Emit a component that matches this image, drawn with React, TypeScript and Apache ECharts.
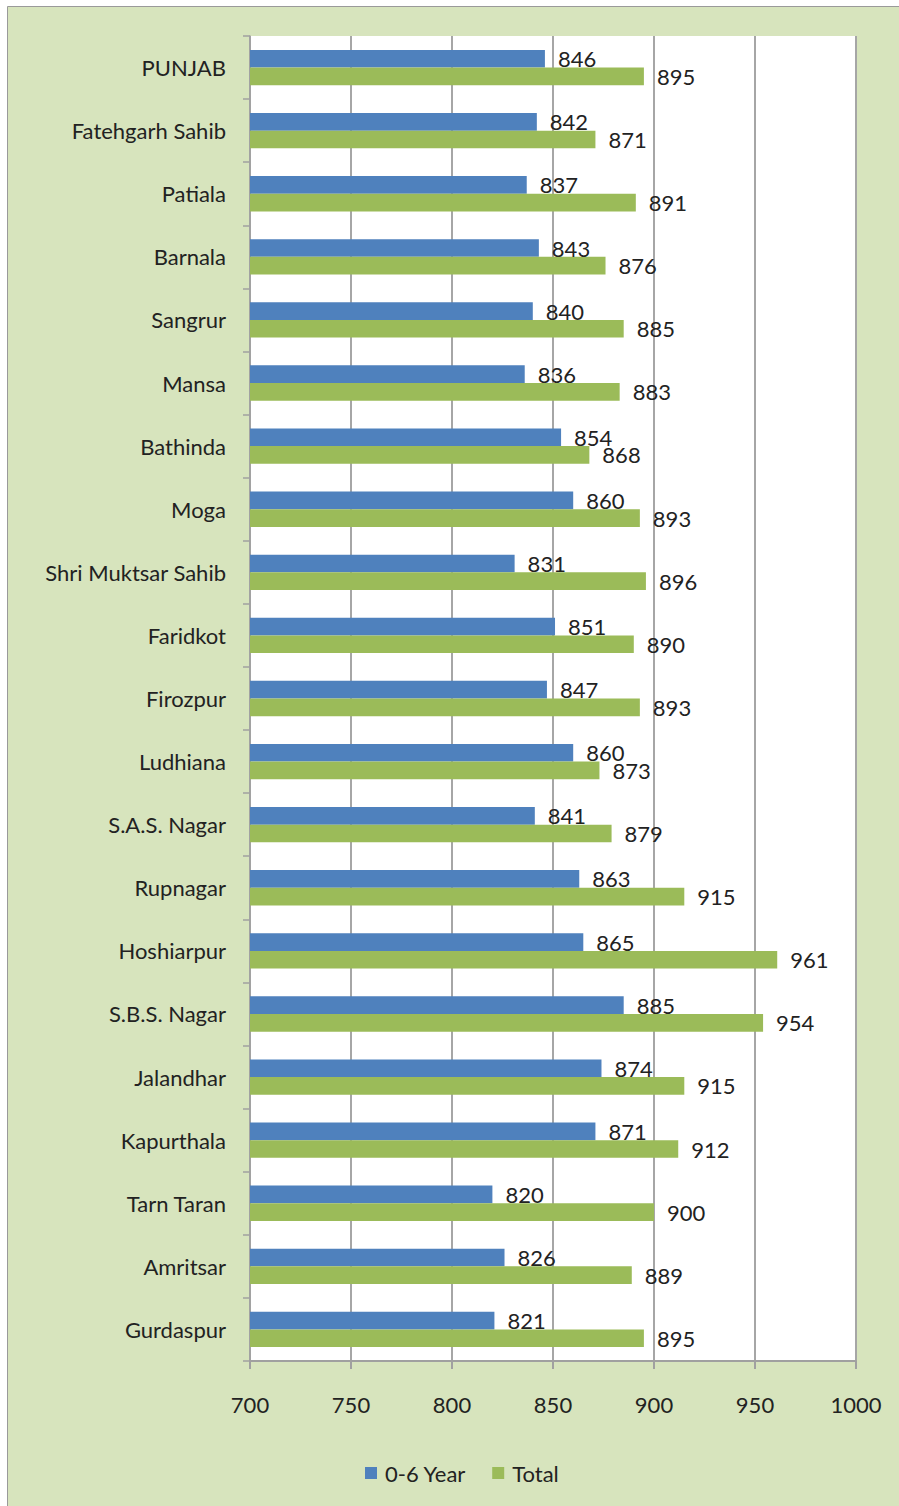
import React, { useEffect, useRef } from "react";
import * as echarts from "echarts";

const categories = [
  "PUNJAB", "Fatehgarh Sahib", "Patiala", "Barnala", "Sangrur", "Mansa", "Bathinda", "Moga",
  "Shri Muktsar Sahib", "Faridkot", "Firozpur", "Ludhiana", "S.A.S. Nagar", "Rupnagar",
  "Hoshiarpur", "S.B.S. Nagar", "Jalandhar", "Kapurthala", "Tarn Taran", "Amritsar", "Gurdaspur",
];
const childValues = [846, 842, 837, 843, 840, 836, 854, 860, 831, 851, 847, 860, 841, 863, 865, 885, 874, 871, 820, 826, 821];
const totalValues = [895, 871, 891, 876, 885, 883, 868, 893, 896, 890, 893, 873, 879, 915, 961, 954, 915, 912, 900, 889, 895];
const seriesNames = ["0-6 Year", "Total"];

const FONT = "Lato";
const FS = 22;
const TXT = "#222222";

export default function App() {
  const ref = useRef<HTMLDivElement>(null);
  useEffect(() => {
    if (!ref.current) return;
    const chart = echarts.init(ref.current, undefined, { renderer: "svg" });
    const label = {
      show: true,
      position: "right" as const,
      distance: 13,
      fontFamily: FONT,
      fontSize: FS,
      color: TXT,
    };
    chart.setOption({
      animation: false,
      backgroundColor: "#ffffff",
      graphic: [
        {
          type: "rect",
          shape: { x: 7.5, y: 6.5, width: 900, height: 1510 },
          style: { fill: "#d7e4bd", stroke: "#9a9a9a", lineWidth: 1 },
          z: -10,
          silent: true,
        },
      ],
      grid: { left: 250, right: 43, top: 36, bottom: 145, backgroundColor: "#ffffff", show: true, borderWidth: 0 },
      legend: {
        data: seriesNames,
        top: 1457,
        left: 360,
        icon: "rect",
        itemWidth: 12,
        itemHeight: 12,
        itemGap: 26,
        textStyle: { fontFamily: FONT, fontSize: FS, color: TXT, padding: [0, 0, 0, 3] },
      },
      xAxis: {
        type: "value",
        min: 700,
        max: 1000,
        interval: 50,
        axisLine: { show: true, lineStyle: { color: "#a0a0a0", width: 2 } },
        axisTick: { show: true, length: 8, lineStyle: { color: "#a0a0a0", width: 2 } },
        splitLine: { show: true, lineStyle: { color: "#a6a6a6", width: 2 } },
        axisLabel: {
          margin: 32,
          fontFamily: FONT,
          fontSize: FS,
          color: TXT,
          formatter: (v: number) => String(v),
        },
      },
      yAxis: {
        type: "category",
        data: categories,
        inverse: true,
        axisLine: { show: true, lineStyle: { color: "#a0a0a0", width: 1.5 } },
        axisTick: { show: true, length: 7, lineStyle: { color: "#a0a0a0", width: 1.5 } },
        axisLabel: { margin: 24, fontFamily: FONT, fontSize: FS, color: TXT },
        splitLine: { show: false },
      },
      series: [
        {
          name: seriesNames[0],
          type: "bar",
          data: childValues,
          itemStyle: { color: "#4f81bd" },
          barGap: "0%",
          barCategoryGap: "44%",
          label,
        },
        {
          name: seriesNames[1],
          type: "bar",
          data: totalValues,
          itemStyle: { color: "#9bbb59" },
          barGap: "0%",
          barCategoryGap: "44%",
          label,
        },
      ],
    });
    return () => chart.dispose();
  }, []);
  return (
    <div
      ref={ref}
      style={{ position: "absolute", left: 0, top: 0, width: 899, height: 1506 }}
    />
  );
}
